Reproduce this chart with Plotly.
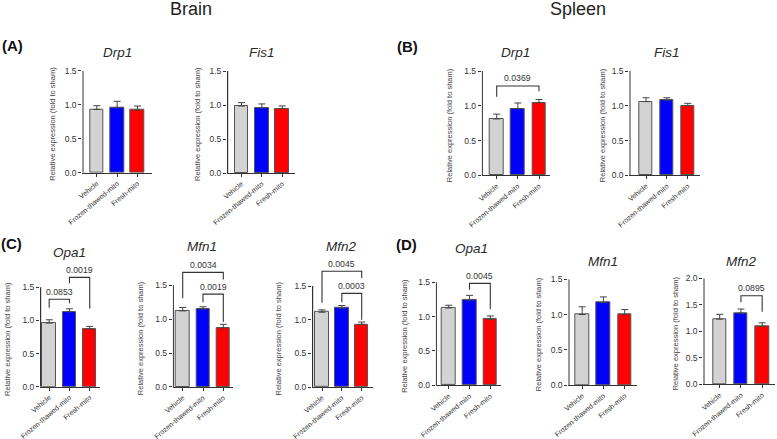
import plotly.graph_objects as go

W, H = 777, 439

groups = ['Vehicle', 'Frozen-thawed-mito', 'Fresh-mito']
bar_colors = ['#d3d3d3', '#0000ff', '#ff0000']
ytick_vals = [0.0, 0.5, 1.0, 1.5]
ytick_vals_mfn2_spleen = [0.0, 0.5, 1.0, 1.5, 2.0]

# mean and SEM (fold to sham)
brain_drp1_mean = [0.93, 0.955, 0.92]
brain_drp1_sem = [0.055, 0.095, 0.06]
brain_fis1_mean = [0.985, 0.956, 0.946]
brain_fis1_sem = [0.05, 0.06, 0.04]
spleen_drp1_mean = [0.81, 0.957, 1.043]
spleen_drp1_sem = [0.07, 0.083, 0.047]
spleen_fis1_mean = [1.06, 1.08, 1.0]
spleen_fis1_sem = [0.055, 0.035, 0.035]
brain_opa1_mean = [0.96, 1.13, 0.87]
brain_opa1_sem = [0.05, 0.045, 0.04]
brain_mfn1_mean = [1.123, 1.148, 0.87]
brain_mfn1_sem = [0.05, 0.035, 0.055]
brain_mfn2_mean = [1.11, 1.17, 0.93]
brain_mfn2_sem = [0.035, 0.04, 0.035]
spleen_opa1_mean = [1.126, 1.24, 0.96]
spleen_opa1_sem = [0.04, 0.07, 0.05]
spleen_mfn1_mean = [1.0, 1.17, 1.0]
spleen_mfn1_sem = [0.11, 0.08, 0.07]
spleen_mfn2_mean = [1.23, 1.34, 1.09]
spleen_mfn2_sem = [0.09, 0.08, 0.07]

# p-value brackets: (group i, group j, bracket height, left leg end, right leg end, p)
spleen_drp1_p = [(0, 2, 1.285, 1.13, 1.21, '0.0369')]
brain_opa1_p = [(0, 1, 1.32, 1.19, 1.26, '0.0853'), (1, 2, 1.65, 1.56, 1.18, '0.0019')]
brain_mfn1_p = [(0, 2, 1.69, 1.31, 1.585, '0.0034'), (1, 2, 1.37, 1.25, 0.96, '0.0019')]
brain_mfn2_p = [(0, 2, 1.72, 1.25, 1.62, '0.0045'), (1, 2, 1.39, 1.26, 1.0, '0.0003')]
spleen_opa1_p = [(1, 2, 1.485, 1.39, 1.107, '0.0045')]
spleen_mfn2_p = [(1, 2, 1.67, 1.55, 1.37, '0.0895')]

# panel placement in px: axis left, axis right, first/last bar centre, y of 0, y of top tick
panels = [
    dict(gene='Drp1', mean=brain_drp1_mean, sem=brain_drp1_sem, p=[], ticks=ytick_vals,
         xl=82.3, xr=151.7, c0=96.8, c2=137.5, y0=172.7, yt=70.7, tx=117, ty=52, lx=53),
    dict(gene='Fis1', mean=brain_fis1_mean, sem=brain_fis1_sem, p=[], ticks=ytick_vals,
         xl=227, xr=295, c0=241.5, c2=282.2, y0=173, yt=71, tx=262, ty=52, lx=198),
    dict(gene='Drp1', mean=spleen_drp1_mean, sem=spleen_drp1_sem, p=spleen_drp1_p, ticks=ytick_vals,
         xl=481.7, xr=550, c0=496.7, c2=539, y0=175.3, yt=71, tx=515, ty=53, lx=449),
    dict(gene='Fis1', mean=spleen_fis1_mean, sem=spleen_fis1_sem, p=[], ticks=ytick_vals,
         xl=629.3, xr=700, c0=646, c2=687.8, y0=175.3, yt=71, tx=667, ty=53, lx=602),
    dict(gene='Opa1', mean=brain_opa1_mean, sem=brain_opa1_sem, p=brain_opa1_p, ticks=ytick_vals,
         xl=40, xr=100, c0=49.2, c2=89.7, y0=386.7, yt=287.3, tx=69, ty=252, lx=7),
    dict(gene='Mfn1', mean=brain_mfn1_mean, sem=brain_mfn1_sem, p=brain_mfn1_p, ticks=ytick_vals,
         xl=172.7, xr=233, c0=182.7, c2=223.3, y0=387, yt=285.3, tx=202, ty=246, lx=140),
    dict(gene='Mfn2', mean=brain_mfn2_mean, sem=brain_mfn2_sem, p=brain_mfn2_p, ticks=ytick_vals,
         xl=312, xr=373, c0=322, c2=361.7, y0=387, yt=286, tx=341, ty=246, lx=278),
    dict(gene='Opa1', mean=spleen_opa1_mean, sem=spleen_opa1_sem, p=spleen_opa1_p, ticks=ytick_vals,
         xl=435.7, xr=501, c0=448.7, c2=490.3, y0=385.3, yt=282.3, tx=471, ty=248, lx=405),
    dict(gene='Mfn1', mean=spleen_mfn1_mean, sem=spleen_mfn1_sem, p=[], ticks=ytick_vals,
         xl=568.3, xr=636.7, c0=582.2, c2=624.7, y0=385, yt=279.3, tx=603, ty=261, lx=538),
    dict(gene='Mfn2', mean=spleen_mfn2_mean, sem=spleen_mfn2_sem, p=spleen_mfn2_p, ticks=ytick_vals_mfn2_spleen,
         xl=703.3, xr=775, c0=719.7, c2=762.2, y0=384.3, yt=278.3, tx=741, ty=261, lx=675),
]

FONT = 'Arial, Liberation Sans, sans-serif'
INK = '#333333'

fig = go.Figure()
shapes = []
annotations = []
layout = {}

for k, pn in enumerate(panels):
    n = '' if k == 0 else str(k + 1)
    xa, ya = 'x' + n, 'y' + n
    s = (pn['c2'] - pn['c0']) / 2.0
    r0 = -(pn['c0'] - pn['xl']) / s
    r1 = 2 + (pn['xr'] - pn['c2']) / s
    tmax = pn['ticks'][-1]
    kpx = (pn['y0'] - pn['yt']) / tmax
    rtop = max([tmax] + [b[2] + 0.05 for b in pn['p']])
    top_px = pn['y0'] - kpx * rtop

    fig.add_trace(go.Bar(
        x=[0, 1, 2], y=pn['mean'], width=13.5 / s,
        marker=dict(color=bar_colors, line=dict(color='#555555', width=1)),
        error_y=dict(type='data', symmetric=False, array=pn['sem'], arrayminus=[0, 0, 0],
                     color='#444444', thickness=1, width=3.5),
        xaxis=xa, yaxis=ya, hoverinfo='skip', showlegend=False,
    ))

    for (i, j, yb, yl, yr, ptxt) in pn['p']:
        fig.add_trace(go.Scatter(
            x=[i, i, j, j], y=[yl, yb, yb, yr], mode='lines',
            line=dict(color=INK, width=1.1), xaxis=xa, yaxis=ya,
            hoverinfo='skip', showlegend=False,
        ))
        annotations.append(dict(
            x=(i + j) / 2, y=yb, xref=xa, yref=ya, text=ptxt, showarrow=False,
            yshift=7.5, yanchor='middle', font=dict(family=FONT, size=8.7, color=INK),
        ))

    layout['xaxis' + n] = dict(
        domain=[pn['xl'] / W, pn['xr'] / W], range=[r0, r1], anchor=ya, automargin=False,
        tickvals=[0, 1, 2], ticktext=groups, tickangle=-40,
        ticks='outside', ticklen=3, tickwidth=1, tickcolor=INK,
        showline=True, linecolor=INK, linewidth=1.2, showgrid=False, zeroline=False,
        tickfont=dict(family=FONT, size=7.1, color=INK), fixedrange=True,
    )
    layout['yaxis' + n] = dict(
        domain=[1 - pn['y0'] / H, 1 - top_px / H], range=[0, rtop], anchor=xa, automargin=False,
        tickvals=pn['ticks'], tickformat='.1f',
        ticks='outside', ticklen=3, tickwidth=1, tickcolor=INK,
        showline=False, showgrid=False, zeroline=False,
        tickfont=dict(family=FONT, size=8.5, color=INK), fixedrange=True,
    )
    # y axis line only up to the top tick
    shapes.append(dict(
        type='line', xref=xa, yref=ya, x0=r0 + 0.6 / s, x1=r0 + 0.6 / s, y0=0, y1=tmax,
        line=dict(color=INK, width=1.2),
    ))
    annotations.append(dict(
        x=pn['tx'] / W, y=1 - pn['ty'] / H, xref='paper', yref='paper',
        text='<i>' + pn['gene'] + '</i>', showarrow=False, xanchor='center', yanchor='middle',
        font=dict(family=FONT, size=13.5, color='#2a2a2a'),
    ))
    annotations.append(dict(
        x=pn['lx'] / W, y=1 - ((pn['y0'] + pn['yt']) / 2 + 2) / H, xref='paper', yref='paper',
        text='Relative expression (fold to sham)', showarrow=False, textangle=-90,
        xanchor='center', yanchor='middle', font=dict(family=FONT, size=7.5, color='#444444'),
    ))

# section headers and panel letters
headers = [('Brain', 191, 9), ('Spleen', 578, 9)]
letters = [('(A)', 12, 45), ('(B)', 408, 46), ('(C)', 11, 243), ('(D)', 406, 244)]
for txt, x, y in headers:
    annotations.append(dict(x=x / W, y=1 - y / H, xref='paper', yref='paper', text=txt,
                            showarrow=False, xanchor='center', yanchor='middle',
                            font=dict(family=FONT, size=18, color='#222222')))
for txt, x, y in letters:
    annotations.append(dict(x=x / W, y=1 - y / H, xref='paper', yref='paper', text='<b>' + txt + '</b>',
                            showarrow=False, xanchor='center', yanchor='middle',
                            font=dict(family=FONT, size=15, color='#111111')))

fig.update_layout(
    template='none',
    width=W, height=H,
    margin=dict(l=0, r=0, t=0, b=0, autoexpand=False),
    paper_bgcolor='white', plot_bgcolor='white',
    showlegend=False, bargap=0,
    shapes=shapes, annotations=annotations,
    **layout
)

# page body has a default 8px margin; drop it so the figure sits at the window corner
fig.write_html("out.html", config={'displayModeBar': False},
               post_script="document.body.style.margin='0';")
